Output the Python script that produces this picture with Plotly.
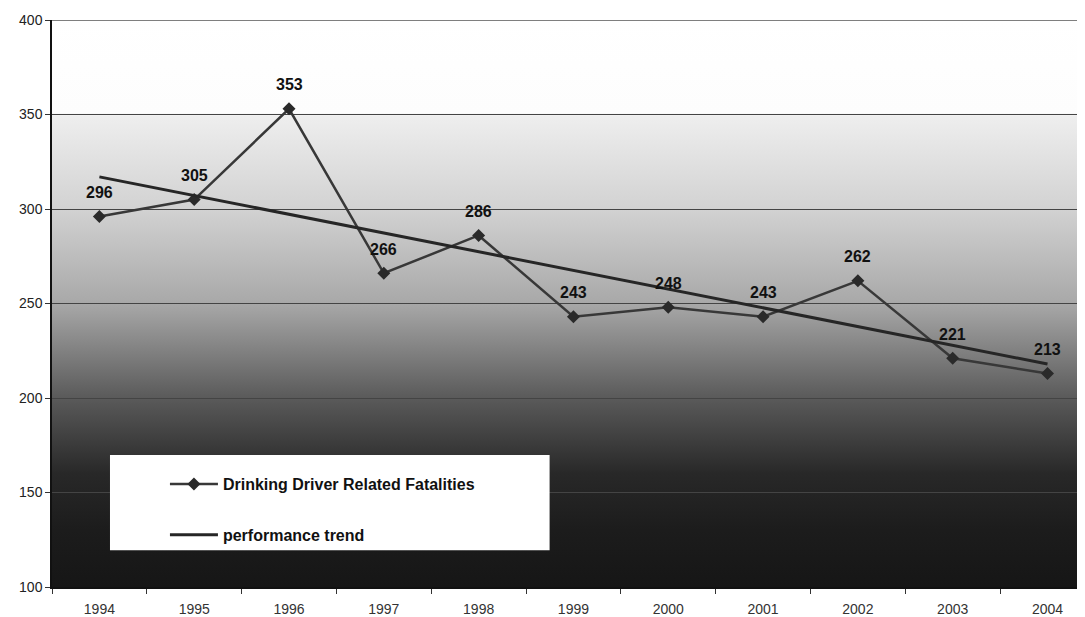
import base64
import plotly.graph_objects as go

years = ["1994", "1995", "1996", "1997", "1998", "1999", "2000", "2001", "2002", "2003", "2004"]
fatalities = [296, 305, 353, 266, 286, 243, 248, 243, 262, 221, 213]
trend_years = ["1994", "2004"]
trend_values = [317, 218]
y_ticks = [100, 150, 200, 250, 300, 350, 400]

# background gradient stops (axis value, gray level)
grad_stops = [(400, 255), (351, 253), (349, 238), (300, 210), (250, 168), (200, 90), (160, 40), (130, 28), (100, 22)]

stops_svg = "".join(
    f'<stop offset="{(400 - v) / 300:.4f}" stop-color="rgb({g},{g},{g})"/>' for v, g in grad_stops
)
svg = (
    '<svg xmlns="http://www.w3.org/2000/svg" width="100" height="600" preserveAspectRatio="none">'
    '<defs><linearGradient id="g" x1="0" y1="0" x2="0" y2="1">' + stops_svg +
    '</linearGradient></defs><rect x="0" y="0" width="100" height="600" fill="url(#g)"/></svg>'
)
svg_uri = "data:image/svg+xml;base64," + base64.b64encode(svg.encode()).decode()

fig = go.Figure()
fig.add_trace(go.Scatter(
    x=years, y=fatalities, mode="lines+markers", name="Drinking Driver Related Fatalities",
    line=dict(color="#383838", width=2.5),
    marker=dict(symbol="diamond", size=10, color="#2a2a2a"),
    legendgroup="a", cliponaxis=False,
))
fig.add_trace(go.Scatter(
    x=trend_years, y=trend_values, mode="lines", name="performance trend",
    line=dict(color="#262626", width=3), legendgroup="b",
))

for i, val in enumerate(fatalities):
    fig.add_annotation(x=i, y=val, xref="x", yref="y", text=str(val), showarrow=False, yshift=24,
                       font=dict(family="Liberation Sans, Arial", size=16, color="#111111", weight="bold"))

fig.update_layout(
    width=1085, height=617,
    margin=dict(l=44, r=0, t=12, b=38),
    paper_bgcolor="white", plot_bgcolor="white",
    images=[dict(source=svg_uri, xref="paper", yref="paper", x=0, y=1, sizex=1, sizey=1,
                 xanchor="left", yanchor="top", sizing="stretch", layer="below")],
    shapes=[
        dict(type="rect", xref="paper", yref="paper", x0=0.0557, x1=0.478, y0=0.065, y1=0.233,
             fillcolor="white", line=dict(width=0), layer="above"),
        dict(type="line", xref="paper", yref="y", x0=0, x1=1, y0=400, y1=400,
             line=dict(color="#555", width=1.5)),
    ],
    showlegend=True,
    legend=dict(x=0.1085, y=0.2116, xanchor="left", yanchor="top", bgcolor="rgba(0,0,0,0)",
                font=dict(family="Liberation Sans, Arial", size=16, color="#111111", weight="bold"),
                itemwidth=48, tracegroupgap=27, traceorder="grouped"),
    font=dict(family="Liberation Sans, Arial", size=14, color="#222222"),
)
fig.update_xaxes(type="category", range=[-0.5, 10.48], tickson="boundaries", ticks="outside", ticklen=5,
                 tickcolor="#333", showgrid=False, showline=True, linecolor="#111", linewidth=1.5,
                 ticklabelstandoff=8, tickfont=dict(size=14, color="#333333"))
fig.update_yaxes(range=[100, 400], tickvals=y_ticks, ticks="outside", ticklen=5, tickcolor="#333",
                 showgrid=True, gridcolor="#444444", gridwidth=1.2, showline=True, linecolor="#111",
                 linewidth=1.5, zeroline=False, tickfont=dict(size=14, color="#222222"))

fig.write_html("out.html")
